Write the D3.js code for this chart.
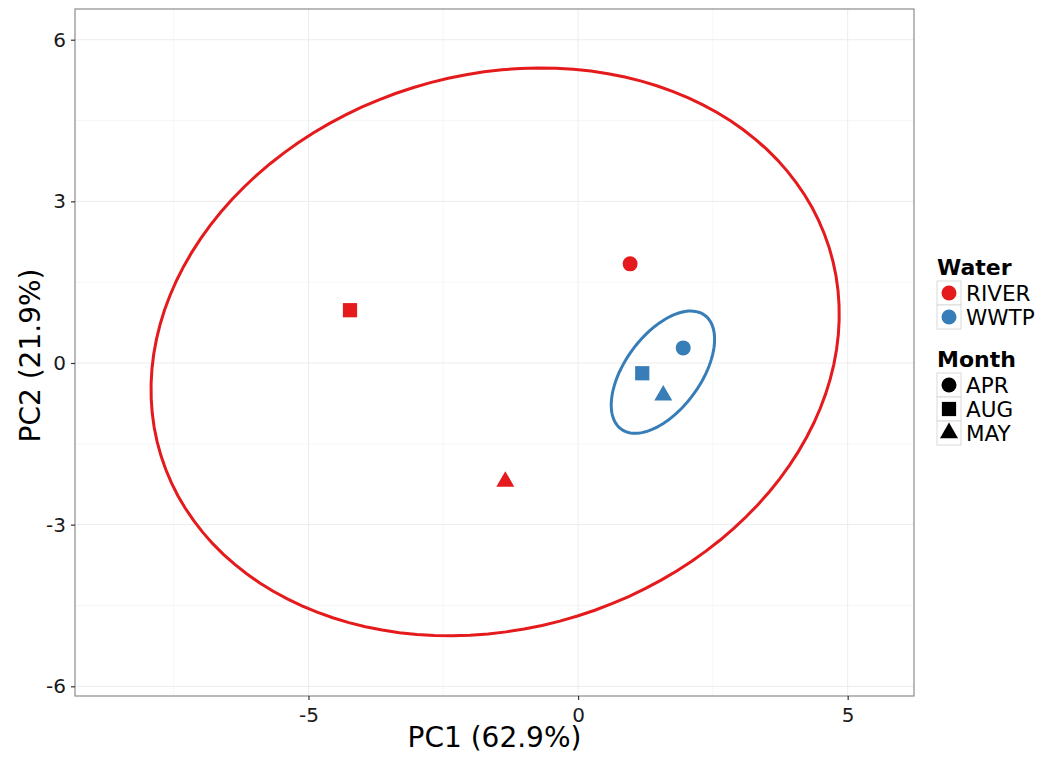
<!DOCTYPE html>
<html>
<head>
<meta charset="utf-8">
<script src="https://cdn.jsdelivr.net/npm/d3@7"></script>
<style>
html,body{margin:0;padding:0;background:#fff;}
text{font-family:"DejaVu Sans",sans-serif;}
</style>
</head>
<body>
<svg id="chart" width="1047" height="759"></svg>
<script>
// ---- data ----
const samples = ["RIVER_APR","RIVER_AUG","RIVER_MAY","WWTP_APR","WWTP_AUG","WWTP_MAY"];
const water = ["RIVER","RIVER","RIVER","WWTP","WWTP","WWTP"];
const month = ["APR","AUG","MAY","APR","AUG","MAY"];
const pc1 = [0.965,-4.23,-1.35,1.95,1.19,1.58];
const pc2 = [1.84,0.98,-2.2,0.28,-0.19,-0.6];
const waterLevels = ["RIVER","WWTP"];
const monthLevels = ["APR","AUG","MAY"];
const waterColors = ["#E41A1C","#377EB8"];
// ellipse shape (semi-axes, rotation in degrees), centred on group mean
const ellA = [6.49,1.31];
const ellB = [5.135,0.70];
const ellAngle = [17.3,53.75];
const xTicks = [-5,0,5];
const yTicks = [-6,-3,0,3,6];
const xMinor = [-7.5,-2.5,2.5];
const yMinor = [-4.5,-1.5,1.5,4.5];
const xDomain = [-9.33,6.23];
const yDomain = [-6.18,6.57];

// ---- layout ----
const svg = d3.select("#chart");
const L=75, R=914, T=9, B=696;
const x = d3.scaleLinear().domain(xDomain).range([L,R]);
const y = d3.scaleLinear().domain(yDomain).range([B,T]);
const color = d3.scaleOrdinal().domain(waterLevels).range(waterColors);
const shapeOf = d3.scaleOrdinal().domain(monthLevels).range(["circle","square","triangle"]);

function symPath(shape, size){
  if(shape==="circle") return d3.symbol(d3.symbolCircle, Math.PI*size*size/4)();
  if(shape==="square") return d3.symbol(d3.symbolSquare, size*size*0.9)();
  const s = size*1.2;
  const h = s*Math.sqrt(3)/2;
  return `M0,${-h*2/3}L${s/2},${h/3}L${-s/2},${h/3}Z`;
}

// panel background
svg.append("rect").attr("x",L).attr("y",T).attr("width",R-L).attr("height",B-T).attr("fill","#fff");

// grid
const g = svg.append("g");
g.selectAll(".xm").data(xMinor).enter().append("line")
  .attr("x1",d=>x(d)).attr("x2",d=>x(d)).attr("y1",T).attr("y2",B)
  .attr("stroke","#f4f4f4").attr("stroke-width",0.8);
g.selectAll(".ym").data(yMinor).enter().append("line")
  .attr("y1",d=>y(d)).attr("y2",d=>y(d)).attr("x1",L).attr("x2",R)
  .attr("stroke","#f4f4f4").attr("stroke-width",0.8);
g.selectAll(".xM").data(xTicks).enter().append("line")
  .attr("x1",d=>x(d)).attr("x2",d=>x(d)).attr("y1",T).attr("y2",B)
  .attr("stroke","#ececec").attr("stroke-width",1);
g.selectAll(".yM").data(yTicks).enter().append("line")
  .attr("y1",d=>y(d)).attr("y2",d=>y(d)).attr("x1",L).attr("x2",R)
  .attr("stroke","#ececec").attr("stroke-width",1);

// ellipses
const line = d3.line().x(d=>x(d[0])).y(d=>y(d[1]));
waterLevels.forEach((w,gi)=>{
  const idx = water.map((v,i)=>v===w?i:-1).filter(i=>i>=0);
  const cx = d3.mean(idx,i=>pc1[i]);
  const cy = d3.mean(idx,i=>pc2[i]);
  const th = ellAngle[gi]*Math.PI/180;
  const pts = d3.range(0,121).map(k=>{
    const t = k/120*2*Math.PI;
    const a=ellA[gi], b=ellB[gi];
    return [cx + a*Math.cos(t)*Math.cos(th) - b*Math.sin(t)*Math.sin(th),
            cy + a*Math.cos(t)*Math.sin(th) + b*Math.sin(t)*Math.cos(th)];
  });
  svg.append("path").attr("d",line(pts)).attr("fill","none")
    .attr("stroke",color(w)).attr("stroke-width",3);
});

// points
samples.forEach((s,i)=>{
  svg.append("path")
    .attr("d",symPath(shapeOf(month[i]),15))
    .attr("transform",`translate(${x(pc1[i])},${y(pc2[i])})`)
    .attr("fill",color(water[i]));
});

// panel border
svg.append("rect").attr("x",L).attr("y",T).attr("width",R-L).attr("height",B-T)
  .attr("fill","none").attr("stroke","#8c8c8c").attr("stroke-width",1.2);

// axes
const fmt = d=>String(d);
const xAxis = svg.append("g").attr("transform",`translate(0,${B})`)
  .call(d3.axisBottom(x).tickValues(xTicks).tickSize(4).tickPadding(8).tickFormat(fmt));
const yAxis = svg.append("g").attr("transform",`translate(${L},0)`)
  .call(d3.axisLeft(y).tickValues(yTicks).tickSize(4).tickPadding(5).tickFormat(fmt));
[xAxis,yAxis].forEach(a=>{
  a.select(".domain").remove();
  a.selectAll(".tick line").attr("stroke","#333").attr("stroke-width",1.2);
  a.selectAll(".tick text").attr("fill","#1a1a1a").style("font-size","20px")
   .style("font-family","'DejaVu Sans',sans-serif");
});

// axis titles
svg.append("text").attr("x",(L+R)/2).attr("y",747).attr("text-anchor","middle")
  .style("font-size","28px").attr("fill","#000").text("PC1 (62.9%)");
svg.append("text").attr("transform",`translate(40,${(T+B)/2+3}) rotate(-90)`)
  .attr("text-anchor","middle").style("font-size","28px").attr("fill","#000").text("PC2 (21.9%)");

// legends
function legend(title, levels, top, drawKey){
  const lg = svg.append("g");
  lg.append("text").attr("x",937).attr("y",top).style("font-size","22px")
    .style("font-weight","bold").attr("fill","#000").text(title);
  levels.forEach((lv,k)=>{
    const ky = top+6+k*24;
    lg.append("rect").attr("x",937).attr("y",ky).attr("width",24).attr("height",24)
      .attr("fill","#fff").attr("stroke","#d9d9d9").attr("stroke-width",1);
    drawKey(lg, lv, 949, ky+12);
    lg.append("text").attr("x",966).attr("y",ky+20).style("font-size","21.5px")
      .attr("fill","#000").text(lv);
  });
}
legend("Water", waterLevels, 275, (lg,lv,cx,cy)=>{
  lg.append("path").attr("d",symPath("circle",15)).attr("transform",`translate(${cx},${cy})`)
    .attr("fill",color(lv));
});
legend("Month", monthLevels, 367, (lg,lv,cx,cy)=>{
  lg.append("path").attr("d",symPath(shapeOf(lv),15)).attr("transform",`translate(${cx},${cy})`)
    .attr("fill","#000");
});
</script>
</body>
</html>
